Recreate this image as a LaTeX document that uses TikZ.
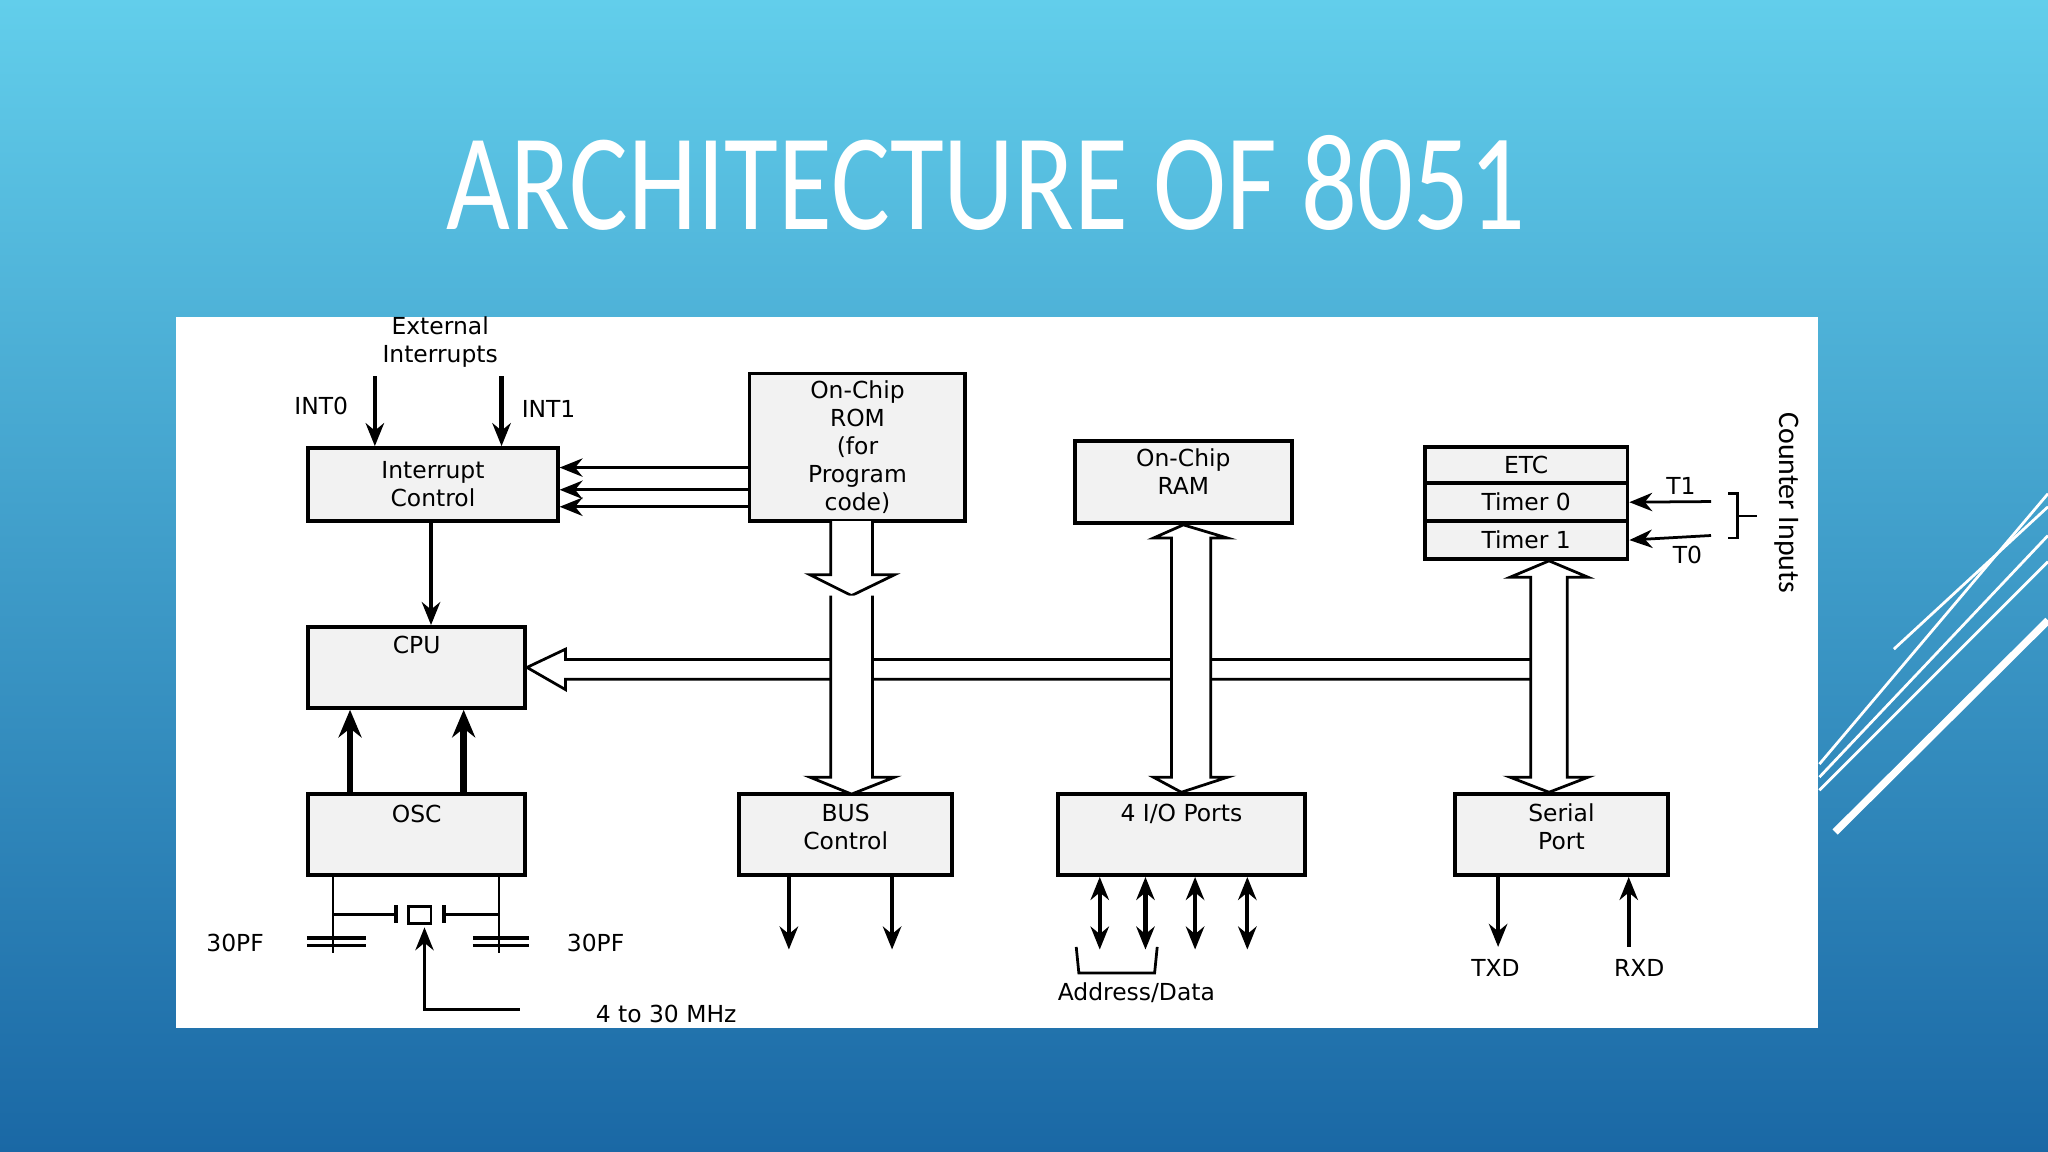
\documentclass[tikz,border=0pt]{standalone}
\usepackage{fontspec}
\setmainfont{DejaVu Sans}
\newfontfamily\titlefont{Carlito}
\usetikzlibrary{arrows.meta,decorations.pathreplacing}
\begin{document}
\begin{tikzpicture}[x=0.01cm,y=-0.01cm,
  blk/.style={draw,fill=gray!10,line width=0.8pt},
  lbl/.style={font=\fontsize{5.1}{6.1}\selectfont,align=center,inner sep=0pt},
  arr/.style={-{Stealth[length=5pt,width=4pt]},line width=0.9pt},
  hol/.style={draw,fill=white,line width=0.6pt}]
\useasboundingbox (0,0) rectangle (1568,882);
\shade[top color={rgb,255:red,98;green,206;blue,235},bottom color={rgb,255:red,26;green,104;blue,165}] (0,0) rectangle (1568,882);
\node[white,font=\titlefont\fontsize{30}{30}\selectfont,xscale=0.8] (title) at (755,140) {ARCHITECTURE OF 8051};
% decorative lines
\draw[white,line width=0.6pt] (1393,585) -- (1568,378);
\draw[white,line width=0.6pt] (1393,595) -- (1568,410);
\draw[white,line width=0.6pt] (1450,497) -- (1568,388);
\draw[white,line width=0.6pt] (1393,605) -- (1568,430);
\draw[white,line width=1.6pt] (1405,637) -- (1568,475);
\fill[white] (135,243) rectangle (1392,787);
% boxes
\node[blk,minimum width=1.91cm,minimum height=0.56cm,lbl] (ic) at (331.5,371) {Interrupt\\Control};
\node[blk,minimum width=1.65cm,minimum height=1.13cm,lbl] (rom) at (656.5,342.5) {On-Chip\\ROM\\(for\\Program\\code)};
\node[blk,minimum width=1.66cm,minimum height=0.63cm,lbl,anchor=north] (ram) at (906,336) {};
\node[lbl] (ramt) at (906,361) {On-Chip\\RAM};
\node[blk,minimum width=1.55cm,minimum height=0.28cm,lbl] (etc) at (1168.5,356) {ETC};
\node[blk,minimum width=1.55cm,minimum height=0.29cm,lbl] (t0) at (1168.5,384.5) {Timer 0};
\node[blk,minimum width=1.55cm,minimum height=0.29cm,lbl] (t1) at (1168.5,413.5) {Timer 1};
\node[blk,minimum width=1.66cm,minimum height=0.62cm] (cpu) at (319,511) {};
\node[lbl] (cput) at (319,494) {CPU};
\node[blk,minimum width=1.66cm,minimum height=0.62cm] (osc) at (319,639) {};
\node[lbl] (osct) at (319,623) {OSC};
\node[blk,minimum width=1.63cm,minimum height=0.62cm] (bus) at (647.5,639) {};
\node[lbl] (bust) at (647.5,633) {BUS\\Control};
\node[blk,minimum width=1.89cm,minimum height=0.62cm] (io) at (904.5,639) {};
\node[lbl] (iot) at (904.5,623) {4 I/O Ports};
\node[blk,minimum width=1.63cm,minimum height=0.62cm] (sp) at (1195.5,639) {};
\node[lbl] (spt) at (1195.5,633) {Serial\\Port};
% interrupts
\node[lbl] (ext) at (337,262) {External\\Interrupts};
\node[lbl] (int0) at (246,311) {INT0};
\node[lbl] (int1) at (420,313) {INT1};
\coordinate (i0) at (287,288); \coordinate (i1) at (384,288);
\draw[arr] (i0) -- (i0 |- ic.north);
\draw[arr] (i1) -- (i1 |- ic.north);
\foreach \y in {358,375,388} \draw[arr,line width=0.6pt] (rom.west |- 0,\y) -- (ic.east |- 0,\y);
\draw[arr] (ic.south -| 330,0) -- (cpu.north -| 330,0);
\draw[arr,line width=1.5pt,-{Stealth[length=6pt,width=5pt]}] (osc.north -| 268,0) -- (cpu.south -| 268,0);
\draw[arr,line width=1.5pt,-{Stealth[length=6pt,width=5pt]}] (osc.north -| 355,0) -- (cpu.south -| 355,0);
% horizontal bus
\draw[hol] (1200,505) -- (433,505) -- (433,497) -- (cpu.east) -- (433,528) -- (433,520) -- (1200,520);
% vertical hollow arrows
\draw[hol] (636,399) -- (636,440) -- (620,440) -- (652,456) -- (685,440) -- (668,440) -- (668,399);
\draw[hol] (636,456) -- (636,595) -- (620,595) -- (652,608) -- (685,595) -- (668,595) -- (668,456);
\draw[hol] (897,412) -- (883,412) -- (ram.south) -- (940,412) -- (927,412) -- (927,595) -- (940,595) -- (io.north) -- (883,595) -- (897,595) -- cycle;
\draw[hol] (1172,442) -- (1156,442) -- (t1.south -| 1186,0) -- (1216,442) -- (1200,442) -- (1200,595) -- (1216,595) -- (sp.north -| 1186,0) -- (1156,595) -- (1172,595) -- cycle;
% outputs
\draw[arr] (bus.south -| 604,0) -- (604,727);
\draw[arr] (bus.south -| 683,0) -- (683,727);
\foreach \x in {842,877,915,955} \draw[arr,{Stealth[length=5pt,width=4pt]}-{Stealth[length=5pt,width=4pt]}] (io.south -| \x,0) -- (\x,727);
\draw[line width=0.6pt] (824,725) -- (826,745) -- (884,745) -- (886,725);
\node[lbl] (ad) at (870,760) {Address/Data};
\draw[arr] (sp.south -| 1147,0) -- (1147,725);
\draw[arr] (1247,725) -- (sp.south -| 1247,0);
\node[lbl] (txd) at (1145,741) {TXD};
\node[lbl] (rxd) at (1255,741) {RXD};
% counter inputs
\draw[arr,line width=0.6pt] (1310,384) -- (t0.east);
\draw[arr,line width=0.6pt] (1310,410) -- (t1.east);
\node[lbl] (t1l) at (1287,372) {T1};
\node[lbl] (t0l) at (1292,425) {T0};
\draw[line width=0.6pt] (1323,378) -- (1330,378) -- (1330,412) -- (1323,412);
\draw[line width=0.6pt] (1330,395) -- (1345,395);
\node[lbl,rotate=-90,font=\titlefont\fontsize{6.5}{8}\selectfont] (ci) at (1368,385) {Counter Inputs};
% crystal circuit
\draw[line width=0.6pt] (osc.south -| 255,0) -- (255,730);
\draw[line width=0.6pt] (osc.south -| 382,0) -- (382,730);
\draw[line width=0.8pt] (235,718) -- (280,718) (235,724) -- (280,724);
\draw[line width=0.8pt] (362,718) -- (405,718) (362,724) -- (405,724);
\draw[line width=0.6pt] (255,700) -- (303,700) (340,700) -- (382,700);
\draw[line width=0.8pt] (303,693) -- (303,707) (340,693) -- (340,707);
\draw[line width=0.6pt,fill=white] (313,694) rectangle (330,707);
\coordinate (mhz) at (398,773);
\draw[arr,line width=0.6pt] (mhz) -- (325,773) -- (325,710);
\node[lbl] (f) at (510,776) {4 to 30 MHz};
\node[lbl] (c1) at (180,722) {30PF};
\node[lbl] (c2) at (456,722) {30PF};
\end{tikzpicture}
\end{document}
